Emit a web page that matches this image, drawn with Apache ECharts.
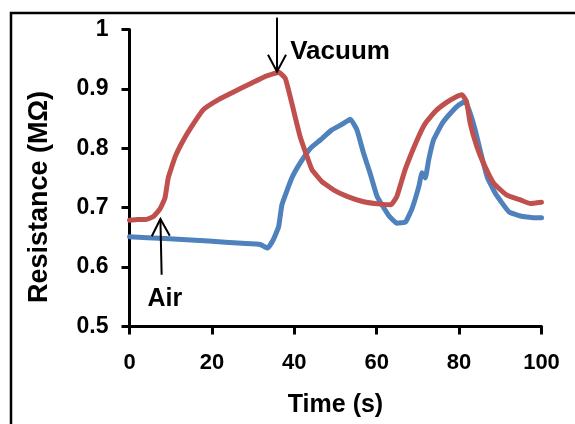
<!DOCTYPE html>
<html>
<head>
<meta charset="utf-8">
<script src="https://cdn.jsdelivr.net/npm/echarts@6/dist/echarts.min.js"></script>
<style>
html,body{margin:0;padding:0;background:#fff;}
#c{width:575px;height:424px;}
</style>
</head>
<body>
<div id="c"></div>
<script>
// ---- data ----
const xTicks = [0, 20, 40, 60, 80, 100];
const yTicks = [0.5, 0.6, 0.7, 0.8, 0.9, 1];

const vacuumT = [0, 2, 4, 5.8, 7.4, 8.6, 9.4, 11.1, 13.1, 15.1, 17.9, 21.6, 25.6, 29.7, 33, 35.2, 36.2, 37.8, 39.0, 40.2, 41.4, 43.1, 44.3, 46.7, 49.5, 52.8, 56.8, 60.9, 63.5, 64.9, 66.9, 69.8, 71.8, 74.2, 76.7, 79.1, 80.7, 81.8, 82.7, 84.3, 85.9, 88.4, 91.6, 94.9, 97.3, 100];
const vacuumR = [0.679, 0.680, 0.680, 0.685, 0.698, 0.716, 0.750, 0.786, 0.814, 0.837, 0.865, 0.882, 0.896, 0.910, 0.921, 0.926, 0.928, 0.918, 0.887, 0.853, 0.820, 0.786, 0.764, 0.744, 0.730, 0.719, 0.710, 0.706, 0.705, 0.719, 0.764, 0.814, 0.842, 0.862, 0.876, 0.886, 0.890, 0.879, 0.842, 0.803, 0.775, 0.741, 0.721, 0.713, 0.707, 0.709];

const airT = [0, 8.6, 19.2, 27.3, 31.7, 33.5, 34.9, 36.2, 37.0, 39.4, 41.4, 43.9, 46.3, 49.1, 51.5, 53.6, 55.2, 56.8, 58.4, 60.1, 62.9, 64.9, 67.0, 68.6, 70.2, 71.0, 71.8, 72.6, 73.8, 75.9, 77.9, 79.9, 81.5, 82.7, 83.9, 85.2, 86.8, 88.8, 92.1, 94.9, 98.1, 100];
const airR = [0.651, 0.648, 0.644, 0.640, 0.638, 0.632, 0.646, 0.668, 0.705, 0.750, 0.775, 0.800, 0.814, 0.831, 0.840, 0.849, 0.831, 0.792, 0.758, 0.719, 0.687, 0.674, 0.676, 0.699, 0.735, 0.759, 0.750, 0.780, 0.814, 0.842, 0.859, 0.873, 0.879, 0.859, 0.831, 0.794, 0.752, 0.724, 0.693, 0.686, 0.683, 0.683];

const xTitle = 'Time (s)';
const yTitle = 'Resistance (MΩ)';

// annotations (data coordinates)
const vacuumLabel = {text: 'Vacuum', at: [39.0, 0.963]};
const vacuumArrow = {from: [35.8, 1.02], to: [35.8, 0.929]};
const airLabel = {text: 'Air', at: [8.6, 0.546]};
const airArrow = {from: [7.8, 0.587], to: [7.5, 0.681]};

// ---- chart ----
const FONT = '"Liberation Sans", Arial, sans-serif';
const chart = echarts.init(document.getElementById('c'), null, {renderer: 'canvas'});
const pairs = (xs, ys) => xs.map((x, i) => [x, ys[i]]);

const option = {
  backgroundColor: '#fff',
  animation: false,
  grid: {left: 129.5, right: 33.5, top: 29.5, bottom: 97.5},
  xAxis: {
    type: 'value', min: xTicks[0], max: xTicks[xTicks.length - 1], interval: 20,
    name: xTitle, nameLocation: 'middle', nameGap: 66,
    nameTextStyle: {fontFamily: FONT, fontWeight: 'bold', fontSize: 25, color: '#000'},
    axisLine: {lineStyle: {color: '#000', width: 3}},
    axisTick: {inside: false, length: 8, lineStyle: {color: '#000', width: 3}},
    axisLabel: {margin: 25, fontFamily: FONT, fontWeight: 'bold', fontSize: 22, color: '#000'},
    splitLine: {show: false}
  },
  yAxis: {
    type: 'value', min: yTicks[0], max: yTicks[yTicks.length - 1], interval: 0.1,
    axisLine: {show: true, lineStyle: {color: '#000', width: 3}},
    axisTick: {show: true, inside: false, length: 8, lineStyle: {color: '#000', width: 3}},
    axisLabel: {margin: 21, fontFamily: FONT, fontWeight: 'bold', fontSize: 23, color: '#000',
      formatter: v => (Math.abs(v - 1) < 1e-9 ? '1' : v.toFixed(1))},
    splitLine: {show: false}
  },
  series: [
    {type: 'line', name: 'Air', data: pairs(airT, airR), showSymbol: false, smooth: 0.12, clip: false,
      lineStyle: {color: '#4F81BD', width: 5, cap: 'round', join: 'round'}},
    {type: 'line', name: 'Vacuum', data: pairs(vacuumT, vacuumR), showSymbol: false, smooth: 0.12, clip: false,
      lineStyle: {color: '#C0504D', width: 5, cap: 'round', join: 'round'}}
  ]
};
chart.setOption(option);

function arrowGraphic(a) {
  const p0 = chart.convertToPixel({gridIndex: 0}, a.from);
  const p1 = chart.convertToPixel({gridIndex: 0}, a.to);
  const dx = p1[0] - p0[0], dy = p1[1] - p0[1];
  const L = Math.sqrt(dx * dx + dy * dy);
  const ux = dx / L, uy = dy / L;
  const hl = 17, hw = 9;
  const bx = p1[0] - ux * hl, by = p1[1] - uy * hl;
  return [
    {type: 'line', shape: {x1: p0[0], y1: p0[1], x2: p1[0], y2: p1[1]}, style: {stroke: '#000', lineWidth: 2}, z: 100},
    {type: 'polyline', shape: {points: [[bx - uy * hw, by + ux * hw], [p1[0], p1[1]], [bx + uy * hw, by - ux * hw]]},
      style: {stroke: '#000', lineWidth: 2, fill: null}, z: 100}
  ];
}
const vl = chart.convertToPixel({gridIndex: 0}, vacuumLabel.at);
const al = chart.convertToPixel({gridIndex: 0}, airLabel.at);
chart.setOption({
  graphic: [
    {type: 'rect', shape: {x: 11, y: 13, width: 700, height: 600}, style: {stroke: '#000', lineWidth: 2.5, fill: null}, z: 90},
    {type: 'text', x: 40, y: 197, rotation: Math.PI / 2,
      style: {text: yTitle, font: 'bold 27px ' + FONT, fill: '#000', textAlign: 'center', textVerticalAlign: 'middle'}, z: 100},
    ...arrowGraphic(vacuumArrow),
    ...arrowGraphic(airArrow),
    {type: 'text', x: vl[0], y: vl[1], style: {text: vacuumLabel.text, font: 'bold 26px ' + FONT, fill: '#000', textAlign: 'left', textVerticalAlign: 'middle'}, z: 100},
    {type: 'text', x: al[0], y: al[1], style: {text: airLabel.text, font: 'bold 25px ' + FONT, fill: '#000', textAlign: 'center', textVerticalAlign: 'middle'}, z: 100}
  ]
});
</script>
</body>
</html>
